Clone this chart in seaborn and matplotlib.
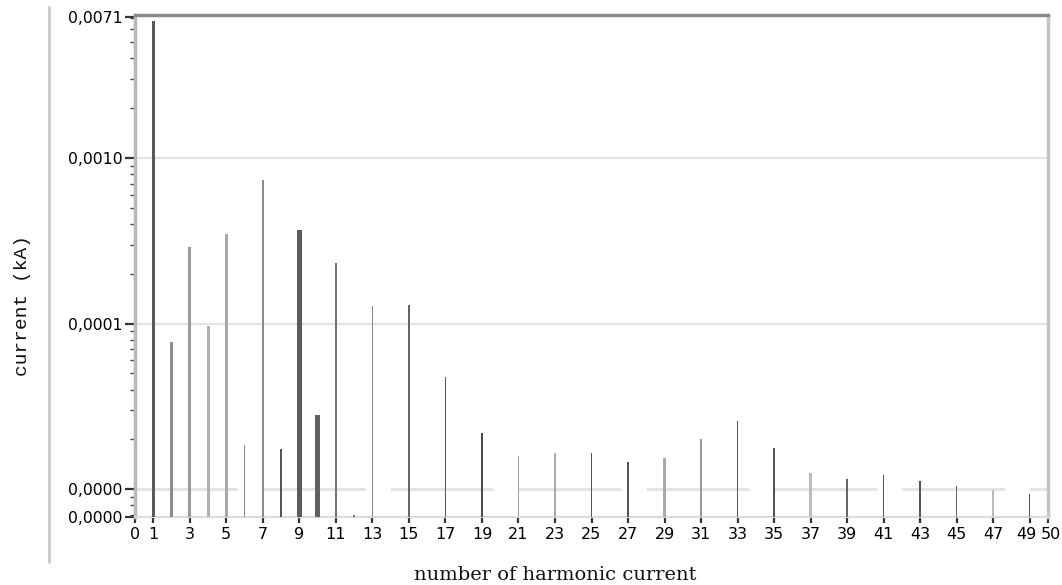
import numpy as np
import pandas as pd
import matplotlib
matplotlib.use("Agg")
import matplotlib.pyplot as plt
from matplotlib.lines import Line2D
from matplotlib.transforms import ScaledTranslation
from matplotlib.ticker import FixedLocator, NullFormatter, LogLocator
import seaborn as sns

# ---- data ----
harmonics = [1, 2, 3, 4, 5, 6, 7, 8, 9, 10, 11, 12, 13, 15, 17, 19, 21, 23, 25,
             27, 29, 31, 33, 35, 37, 39, 41, 43, 45, 47, 49]
current_kA = [6.7e-3, 7.7e-5, 2.9e-4, 9.7e-5, 3.5e-4, 1.85e-5, 7.4e-4, 1.76e-5,
              3.66e-4, 2.8e-5, 2.31e-4, 7.0e-6, 1.27e-4, 1.29e-4, 4.76e-5,
              2.2e-5, 1.58e-5, 1.66e-5, 1.66e-5, 1.47e-5, 1.55e-5, 2.0e-5,
              2.57e-5, 1.78e-5, 1.25e-5, 1.15e-5, 1.22e-5, 1.12e-5, 1.04e-5,
              9.9e-6, 9.4e-6]
x_ticks = [0, 1, 3, 5, 7, 9, 11, 13, 15, 17, 19, 21, 23, 25, 27, 29, 31, 33, 35,
           37, 39, 41, 43, 45, 47, 49, 50]
y_ticks = [6.8e-6, 1e-5, 1e-4, 1e-3, 7.1e-3]
y_tick_labels = ["0,0000", "0,0000", "0,0001", "0,0010", "0,0071"]

# ---- styles (one per bar) ----
bar_px = [3.5, 3, 3, 3, 3, 1.5, 2, 1.5, 5, 5, 1.5, 1.5, 1.5, 1.5, 1.5, 2.5, 1.5,
          1.5, 1.5, 2.5, 3, 1.5, 1.5, 2.5, 2.5, 1.5, 1.5, 2.5, 1.5, 2.5, 1.5]
bar_colors = ["#5a5a5a", "#8c8c8c", "#9a9a9a", "#b0b0b0", "#a8a8a8", "#8a8a8a",
              "#8c8c8c", "#555555", "#5a5a5a", "#606060", "#707070", "#777777",
              "#8a8a8a", "#666666", "#555555", "#4a4a4a", "#a0a0a0", "#aaaaaa",
              "#555555", "#555555", "#aaaaaa", "#999999", "#555555", "#555555",
              "#bbbbbb", "#666666", "#555555", "#555555", "#666666", "#bbbbbb",
              "#555555"]

sns.set_theme(style="white")
plt.rcParams["font.family"] = ["DejaVu Sans"]

W, H = 1062, 585
fig = plt.figure(figsize=(W / 100, H / 100), dpi=100)
left, right, top, bottom = 135, 1048, 15, 517
ax = fig.add_axes([left / W, 1 - bottom / H, (right - left) / W, (bottom - top) / H])

df = pd.DataFrame({"harmonic": harmonics, "current": current_kA})
sns.barplot(data=df, x="harmonic", y="current", native_scale=True,
            errorbar=None, color="#777777", width=0.2, ax=ax, zorder=3)

ax.set_xlim(0, 50)
px_per_unit = (right - left) / 50.0
for patch, wpx, col in zip(ax.patches, bar_px, bar_colors):
    cx = patch.get_x() + patch.get_width() / 2
    w = wpx / px_per_unit
    patch.set_x(cx - w / 2)
    patch.set_width(w)
    patch.set_facecolor(col)
    patch.set_edgecolor("none")

ax.set_yscale("log")
ax.set_ylim(6.8e-6, 7.3e-3)
ax.set_xlim(0, 50)

# gridlines
for v in (1e-4, 1e-3):
    ax.axhline(v, color="#e2e2e2", lw=1.5, zorder=0)
ax.axhline(1e-5, color="#e2e2e2", lw=2, ls=(0, (37, 9)), zorder=0)

# ticks
ax.yaxis.set_major_locator(FixedLocator(y_ticks))
ax.set_yticklabels(y_tick_labels)
ax.yaxis.set_minor_locator(LogLocator(base=10, subs=np.arange(2, 10)))
ax.yaxis.set_minor_formatter(NullFormatter())
ax.set_xticks(x_ticks)
ax.set_xticklabels([str(t) for t in x_ticks])
ax.tick_params(axis="y", which="major", left=True, length=7, width=1.6,
               color="#333333", labelsize=11.3, labelcolor="#000000", pad=2)
ax.tick_params(axis="y", which="minor", left=True, length=3.5, width=1.0,
               color="#444444")
ax.tick_params(axis="x", which="major", bottom=True, length=4, width=1.6,
               color="#333333", labelsize=11.5, labelcolor="#000000", pad=3)

# squeeze the crowded "49" / "50" labels apart a little
xlabels = ax.get_xticklabels()
xlabels[-2].set_transform(xlabels[-2].get_transform()
                          + ScaledTranslation(-3 / 100, 0, fig.dpi_scale_trans))
xlabels[-1].set_transform(xlabels[-1].get_transform()
                          + ScaledTranslation(3 / 100, 0, fig.dpi_scale_trans))

# spines
ax.spines["top"].set_color("#8a8a8a")
ax.spines["top"].set_linewidth(2.5)
ax.spines["right"].set_color("#c4c4c4")
ax.spines["right"].set_linewidth(2.5)
ax.spines["left"].set_color("#b8b8b8")
ax.spines["left"].set_linewidth(2.5)
ax.spines["bottom"].set_color("#dcdcdc")
ax.spines["bottom"].set_linewidth(1.5)

# labels
ax.set_xlabel("number of harmonic current", family="DejaVu Serif",
              fontsize=14, color="#111111")
ax.set_ylabel("current (kA)", family="Liberation Mono", fontsize=14,
              color="#111111")
ax.xaxis.label.set_va("center")
ax.yaxis.label.set_va("center")
ax.xaxis.set_label_coords((555 - left) / (right - left), (bottom - 575) / (bottom - top))
ax.yaxis.set_label_coords((23 - left) / (right - left), (bottom - 305) / (bottom - top))

# outer frame line on the left
fig.add_artist(Line2D([49 / W, 49 / W], [1 - 7 / H, 1 - 562 / H],
                      color="#c8c8c8", lw=2, transform=fig.transFigure))

fig.savefig("out.png", dpi=100, facecolor="white")
